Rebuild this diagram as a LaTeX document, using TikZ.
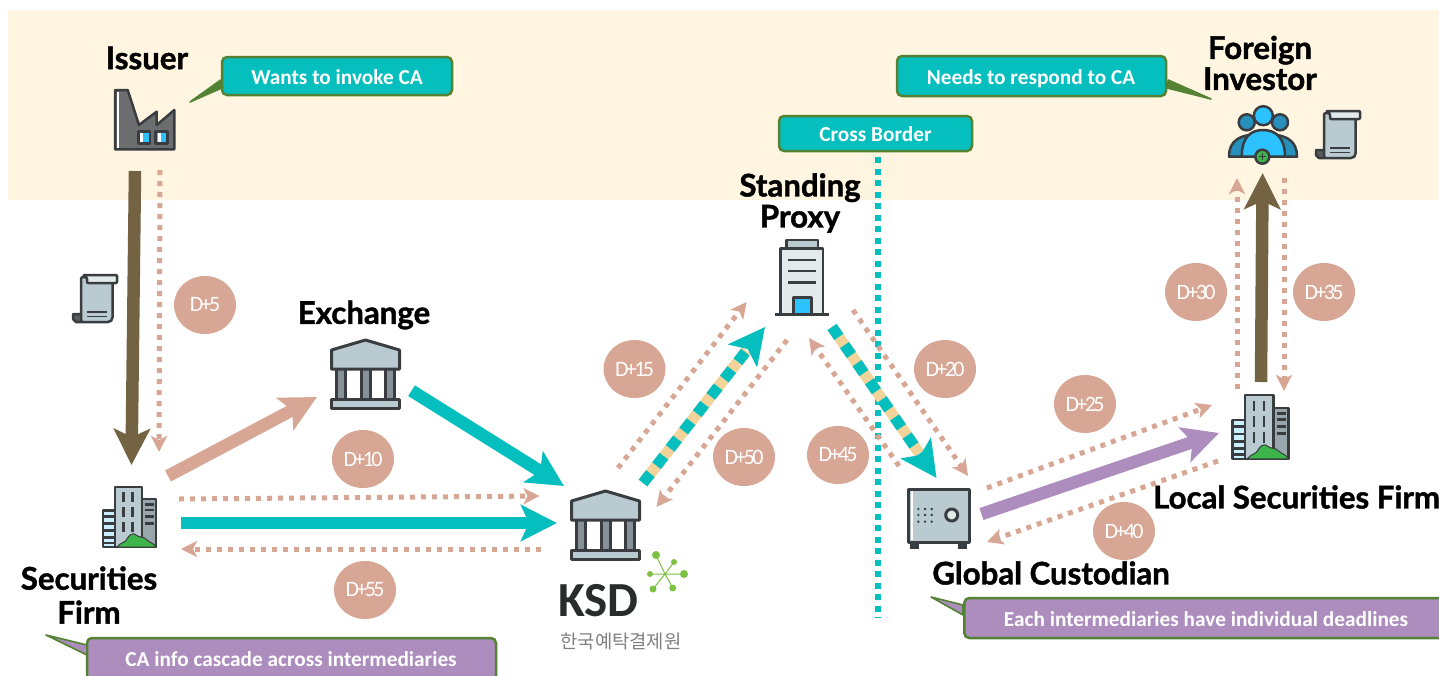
\documentclass[tikz,border=0pt]{standalone}
\usepackage{fontspec}
\setmainfont{Carlito}
\newfontfamily\labelfont[BoldFeatures={FakeBold=1.4}]{Lato}
\newfontfamily\tightfont[LetterSpace=-12]{Carlito}
\newfontfamily\krfont{Noto Sans CJK KR}
\usetikzlibrary{calc,arrows.meta,shapes.geometric}

\definecolor{bandcream}{HTML}{FFF5E0}
\definecolor{ksdteal}{HTML}{04BFBE}
\definecolor{ksdpink}{HTML}{D8A694}
\definecolor{ksdbrown}{HTML}{736343}
\definecolor{ksdpurple}{HTML}{AC8DBD}
\definecolor{ksdtan}{HTML}{F2D49B}
\definecolor{edgegreen}{HTML}{548235}
\definecolor{icondark}{HTML}{3A3D3F}
\definecolor{iconsteel}{HTML}{B9CAD1}
\definecolor{iconpale}{HTML}{E3EAEC}
\definecolor{iconblue}{HTML}{2CC1FF}
\definecolor{icondeep}{HTML}{2790BC}
\definecolor{icongreen}{HTML}{3DB54A}
\definecolor{logogreen}{HTML}{7DC242}

\tikzset{
	iconspot/.style={inner sep=0pt, minimum size=1pt},
	actor/.style={font=\labelfont\bfseries\fontsize{31.2}{31}\selectfont, align=center, inner sep=0pt},
	badge/.style={ellipse, fill=ksdpink, text=white, inner sep=0pt, minimum width=62pt, minimum height=58pt, font=\tightfont\fontsize{22}{22}\selectfont},
	notebox/.style={rectangle, rounded corners=5pt, draw=edgegreen, line width=2.5pt, inner sep=0pt},
	notetext/.style={text=white, inner sep=0pt, font=\bfseries\fontsize{21.3}{24}\selectfont},
	notetail/.style={draw=edgegreen, line width=1.6pt, line join=round},
	bigarrow/.style={line width=12.5pt, -{Stealth[length=36pt,width=36pt,inset=8pt]}},
	dotarrow/.style={color=ksdpink, line width=5pt, dash pattern=on 5pt off 6pt, -{Stealth[length=16pt,width=16pt,inset=4pt]}},
	tanline/.style={color=ksdtan, line width=11pt, shorten >=30pt},
	tealstripe/.style={color=ksdteal, line width=11pt, dash pattern=on 12pt off 10pt, -{Stealth[length=36pt,width=36pt,inset=8pt]}},
	iconline/.style={draw=icondark, line width=2.5pt, line join=round}
}

\def\bankicon(#1){
	\begin{scope}[shift={(#1)}]
		\fill[iconsteel!60!icondark] (-28,-5) rectangle (-20,25);
		\fill[iconsteel!60!icondark] (-4,-5) rectangle (5,25);
		\fill[iconsteel!60!icondark] (20,-5) rectangle (28,25);
		\draw[iconline] (-29,-5) -- (-29,25) (-20,-5) -- (-20,25) (-4,-5) -- (-4,25) (5,-5) -- (5,25) (20,-5) -- (20,25) (29,-5) -- (29,25);
		\filldraw[iconline, line width=3pt, fill=iconsteel] (-34,-24) -- (0,-34) -- (34,-24) -- (34,-5) -- (-34,-5) -- cycle;
		\filldraw[iconline, line width=3pt, fill=iconsteel] (-34,25) rectangle (34,34);
	\end{scope}
}
\def\firmicon(#1,#2){
	\begin{scope}[shift={(#1)}, scale=#2]
		\filldraw[iconline, fill=iconsteel!75!icondark] (12,-18) rectangle (26,30);
		\filldraw[iconline, fill=iconsteel] (-15,-30) rectangle (12,30);
		\filldraw[iconline, fill=iconblue!25] (-27,-6.5) rectangle (-15,30);
		\draw[iconline] (-27,-0.5) -- (-15,-0.5) (-27,6.5) -- (-15,6.5) (-27,13.5) -- (-15,13.5) (-27,20.5) -- (-15,20.5) (-27,26) -- (-15,26);
		\draw[iconline] (-6.7,-24.7) -- (-6.7,-15.3) (2.7,-24.7) -- (2.7,-15.3);
		\draw[iconline] (-6.7,-10.3) -- (-6.7,-0.3) (2.7,-10.3) -- (2.7,-0.3);
		\draw[iconline] (-6.7,4.7) -- (-6.7,14.7) (2.7,4.7) -- (2.7,14.7);
		\draw[iconline] (15,-12.7) -- (23.5,-12.7) (15,-7) -- (23.5,-7) (15,-0.3) -- (23.5,-0.3) (15,6.3) -- (23.5,6.3);
		\filldraw[draw=icondark, line width=1pt, fill=icongreen] (-13,30) .. controls (-9,25) and (-5,26) .. (-3,22) .. controls (-1,18) and (3,15) .. (6,18) .. controls (9,21) and (14,19) .. (17,23) .. controls (20,26) and (24,26) .. (26,30) -- cycle;
	\end{scope}
}
\def\scrollicon(#1,#2){
	\begin{scope}[shift={(#1,#2)}]
		\filldraw[iconline, fill=icondark!85] (0,40) -- (9,40) -- (9,48) -- (3,48) -- (0,45) -- cycle;
		\filldraw[iconline, fill=iconsteel, rounded corners=2pt] (8,48) -- (37,48) -- (39.5,45.5) -- (39.5,3) -- (8,3) -- cycle;
		\filldraw[iconline, fill=iconpale, rounded corners=1pt] (10,1) -- (44,1) -- (44,9) -- (14,9) -- (14,4) -- cycle;
		\draw[icondark, line width=1.8pt] (14,38) -- (34,38) (14,42.5) -- (34,42.5);
	\end{scope}
}

\begin{document}
\begin{tikzpicture}[x=1pt, y=-1pt]
			%%%%% START %%%%%
			\useasboundingbox (0,0) rectangle (1439,675);
			\fill[bandcream] (8,10) rectangle (1439,200);
			
			\node[iconspot] (issuer) at (145,120) {};
			\node[iconspot] (firm) at (130,517) {};
			\node[iconspot] (exchange) at (365.5,374) {};
			\node[iconspot] (ksd) at (605.5,525) {};
			\node[iconspot] (proxy) at (802,277) {};
			\node[iconspot] (custodian) at (938.5,519) {};
			\node[iconspot] (localfirm) at (1261,427) {};
			\node[iconspot] (investor) at (1263,130) {};
			
			% factory
			\filldraw[iconline, fill=icondark!75!white] (115,90) -- (127.7,90) -- (139,125) -- (156.7,111.7) -- (156.7,125) -- (174.3,110) -- (174.3,149.3) -- (115,149.3) -- cycle;
			\fill[white] (117,92) rectangle (119,148);
			\filldraw[iconline, fill=iconblue] (138.3,131.7) rectangle (150,143.3);
			\filldraw[iconline, fill=iconblue] (155.7,131.7) rectangle (167.7,143.3);
			\fill[white] (140,133) rectangle (143,142);
			\fill[white] (157.5,133) rectangle (160.5,142);
			
			\firmicon(firm,1)
			\firmicon(localfirm,1.06)
			\bankicon(exchange)
			\bankicon(ksd)
			\scrollicon(73,274)
			\scrollicon(1316,110)
			
			% tower
			\filldraw[iconline, fill=iconsteel] (786.7,240) rectangle (818,248.3);
			\filldraw[iconline, fill=iconpale] (780.7,248.3) rectangle (823,314);
			\draw[icondark, line width=2.5pt] (788.3,260) -- (815.7,260) (788.3,271) -- (815.7,271) (788.3,282.7) -- (815.7,282.7);
			\filldraw[iconline, fill=iconblue] (793.3,297.3) rectangle (811.7,314);
			\draw[icondark, line width=3.5pt] (775,314.5) -- (829,314.5);
			
			% safe
			\fill[icondark] (910,542) rectangle (919,549);
			\fill[icondark] (958.3,542) rectangle (966.7,549);
			\filldraw[iconline, line width=3pt, fill=iconsteel] (908.3,489) rectangle (969,542.3);
			\fill[white] (910.5,491) rectangle (913,540);
			\filldraw[iconline, line width=3pt, fill=iconpale] (951.7,515) circle (6);
			\fill[icondark] (918.3,509) circle (1.3);
			\fill[icondark] (925,509) circle (1.3);
			\fill[icondark] (931.7,509) circle (1.3);
			\fill[icondark] (918.3,515) circle (1.3);
			\fill[icondark] (925,515) circle (1.3);
			\fill[icondark] (931.7,515) circle (1.3);
			\fill[icondark] (918.3,521.7) circle (1.3);
			\fill[icondark] (925,521.7) circle (1.3);
			\fill[icondark] (931.7,521.7) circle (1.3);
			
			% people
			\filldraw[iconline, fill=icondeep] (1246.7,122.3) circle (8);
			\filldraw[iconline, fill=icondeep] (1280,122.3) circle (8);
			\filldraw[iconline, fill=iconblue] (1263.3,115.7) circle (9.5);
			\filldraw[iconline, fill=icondeep] (1229,156.7) .. controls (1229,140) and (1240,134) .. (1263,134) .. controls (1286,134) and (1297,140) .. (1297,156.7) -- cycle;
			\filldraw[iconline, fill=iconblue] (1241.7,156.7) .. controls (1241.7,138) and (1250,130) .. (1263,130) .. controls (1276,130) and (1285,138) .. (1285,156.7) -- cycle;
			\filldraw[iconline, fill=icongreen] (1262.3,156.7) circle (7);
			\draw[icondark, line width=1.5pt] (1258.8,156.7) -- (1265.8,156.7) (1262.3,153.2) -- (1262.3,160.2);
			
			% logo
			\draw[logogreen, line width=1pt] (665,574) -- (656,555) (665,574) -- (674,562) (665,574) -- (684,574) (665,574) -- (672.7,588) (665,574) -- (653,589) (665,574) -- (650,574);
			\fill[logogreen] (656,555) circle (4);
			\fill[logogreen] (674,562) circle (3);
			\fill[logogreen] (684,574) circle (4);
			\fill[logogreen] (672.7,588) circle (3.5);
			\fill[logogreen] (653,589) circle (3.5);
			\fill[logogreen] (650,574) circle (3);
			\node[font=\bfseries\fontsize{49}{49}\selectfont, text=icondark!70!black, inner sep=0pt] (ksdmark) at (598.5,601) {KSD};
			\node[font=\krfont\fontsize{18.8}{19}\selectfont, text=black!50, inner sep=0pt] (ksdname) at (621,641) {한국예탁결제원};
			
			% border
			\draw[ksdteal, line width=6pt, dash pattern=on 6pt off 5.5pt] (878,157) -- (878,618);
			
			% flows
			\draw[bigarrow, ksdbrown] ($(issuer)+(-10,51)$) -- ($(firm)+(1.5,-52)$);
			\draw[dotarrow] ($(issuer)+(15,50)$) -- ($(firm)+(29,-65)$);
			\draw[bigarrow, ksdpink] ($(firm)+(38,-41)$) -- ($(exchange)+(-48.5,23)$);
			\draw[bigarrow, ksdteal] ($(exchange)+(46,16.7)$) -- ($(ksd)+(-41.5,-39)$);
			\draw[dotarrow] ($(firm)+(49,-18)$) -- ($(ksd)+(-66,-29)$);
			\draw[bigarrow, ksdteal] ($(firm)+(51,6)$) -- ($(ksd)+(-48.5,-2)$);
			\draw[dotarrow] ($(ksd)+(-64.5,24)$) -- ($(firm)+(51,32)$);
			
			\draw[tanline] ($(ksd)+(37.5,-42)$) -- ($(proxy)+(-37,50)$);
			\draw[tealstripe] ($(ksd)+(37.5,-42)$) -- ($(proxy)+(-37,50)$);
			\draw[dotarrow] ($(ksd)+(12.5,-57)$) -- ($(proxy)+(-55.4,25)$);
			\draw[dotarrow] ($(proxy)+(-15,63)$) -- ($(ksd)+(51,-18)$);
			
			\draw[tanline] ($(proxy)+(30,50)$) -- ($(custodian)+(-2,-41)$);
			\draw[tealstripe] ($(proxy)+(30,50)$) -- ($(custodian)+(-2,-41)$);
			\draw[dotarrow] ($(proxy)+(51,33)$) -- ($(custodian)+(29.5,-43)$);
			\draw[dotarrow] ($(custodian)+(-39.5,-53)$) -- ($(proxy)+(7,61)$);
			
			\draw[bigarrow, ksdpurple] ($(custodian)+(43,-5)$) -- ($(localfirm)+(-42,6)$);
			\draw[dotarrow] ($(custodian)+(48.5,-31)$) -- ($(localfirm)+(-49,-22)$);
			\draw[dotarrow] ($(localfirm)+(-43,34)$) -- ($(custodian)+(48.5,23)$);
			
			\draw[bigarrow, ksdbrown] ($(localfirm)+(0,-45)$) -- ($(investor)+(-0.4,43)$);
			\draw[dotarrow] ($(localfirm)+(-24,-38)$) -- ($(investor)+(-26,48)$);
			\draw[dotarrow] ($(investor)+(21,48)$) -- ($(localfirm)+(23,-36)$);
			
			% deadlines
			\node[badge] (d5) at (205,305) {D+5};
			\node[badge] (d10) at (363,459) {D+10};
			\node[badge] (d55) at (365,590) {D+55};
			\node[badge] (d15) at (634.5,369) {D+15};
			\node[badge] (d50) at (744,457) {D+50};
			\node[badge] (d45) at (838,455) {D+45};
			\node[badge] (d20) at (945,369) {D+20};
			\node[badge] (d25) at (1085,404) {D+25};
			\node[badge] (d40) at (1124,531) {D+40};
			\node[badge] (d30) at (1196,292) {D+30};
			\node[badge] (d35) at (1324,292) {D+35};
			
			% actors
			\node[actor] (issuerlabel) at (147,58) {Issuer};
			\node[actor] (investorlabel) at (1260,63) {Foreign\\Investor};
			\node[actor] (exchangelabel) at (364,315) {Exchange};
			\node[actor] (firmlabel) at (89,595) {Securities\\[3pt]Firm};
			\node[actor] (proxylabel) at (800,203) {Standing\\Proxy};
			\node[actor] (custodianlabel) at (1051,573) {Global Custodian};
			\node[actor, anchor=west] (localfirmlabel) at (1153,497) {Local Securities Firm};
			
			% notes
			\node[notebox, fill=ksdteal, minimum width=230pt, minimum height=38pt] (invokebox) at (337,76) {};
			\node[notetext] (invokenote) at (337,77) {Wants to invoke CA};
			\filldraw[notetail, fill=edgegreen] ($(invokebox.west)+(0,4)$) -- (190,102) -- ($(invokebox.west)+(1,12)$) -- cycle;
			\node[notebox, fill=ksdteal, minimum width=269pt, minimum height=40pt] (respondbox) at (1031.5,76) {};
			\node[notetext] (respondnote) at (1031,79) {Needs to respond to CA};
			\filldraw[notetail, fill=edgegreen] ($(respondbox.east)+(1,4)$) -- (1211,99) -- ($(respondbox.east)+(0,12)$) -- cycle;
			\node[notebox, fill=ksdteal, minimum width=193pt, minimum height=35pt] (borderbox) at (875.5,133.5) {};
			\node[notetext] (bordernote) at (875.5,134.5) {Cross Border};
			\node[notebox, fill=ksdpurple, minimum width=409pt, minimum height=50pt] (cascadebox) at (291.5,663) {};
			\node[notetext] (cascadenote) at (291,659) {CA info cascade across intermediaries};
			\filldraw[notetail, fill=ksdpurple] (87,645) -- (46,635) -- (87,655) -- cycle;
			\node[notebox, fill=ksdpurple, minimum width=500pt, minimum height=40pt, anchor=west] (deadlinebox) at (963,618) {};
			\node[notetext] (deadlinenote) at (1206,619) {Each intermediaries have individual deadlines};
			\filldraw[notetail, fill=ksdpurple] (963,605) -- (931,597) -- (963,615) -- cycle;
			
			%%%%% END %%%%%
		\end{tikzpicture}
\end{document}
